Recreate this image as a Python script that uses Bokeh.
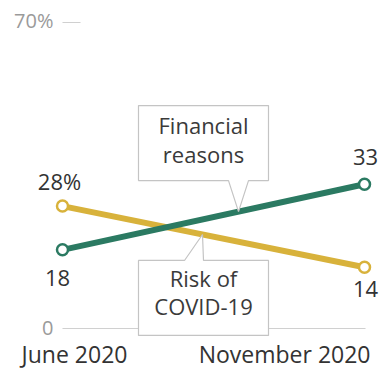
from bokeh.plotting import figure
from bokeh.models import Range1d
from bokeh.core.properties import value
from bokeh.embed import file_html
from bokeh.resources import INLINE

# ---- data ----
periods = ["June 2020", "November 2020"]
x_pos = [0, 1]
financial = [18, 33]
covid = [28, 14]
financial_labels = ["18", "33"]
covid_labels = ["28%", "14"]
financial_name = ["Financial", "reasons"]
covid_name = ["Risk of", "COVID-19"]
y_ticks = [0, 70]
y_tick_labels = ["0", "70%"]

GREEN = "#2b7a62"
GOLD = "#d8b23b"
FONT = value("Open Sans")

W, H = 380, 369
M = 0
PX0, PX1 = 62, 364
PY0, PY70 = 328, 22
kx = (PX1 - PX0) / (x_pos[1] - x_pos[0])
ky = (PY0 - PY70) / (y_ticks[1] - y_ticks[0])


def dx(px):
    return (px - PX0) / kx + x_pos[0]


def dy(py):
    return (PY0 - py) / ky + y_ticks[0]


def px_of(x):
    return PX0 + (x - x_pos[0]) * kx


def py_of(y):
    return PY0 - (y - y_ticks[0]) * ky


p = figure(width=W, height=H, output_backend="svg", toolbar_location=None,
           x_range=Range1d(dx(M), dx(M + W)), y_range=Range1d(dy(M + H), dy(M)),
           min_border=0)
p.axis.visible = False
p.grid.visible = False
p.outline_line_color = None
p.background_fill_color = "white"
p.border_fill_color = "white"

# baseline and top tick
p.segment(x0=[x_pos[0]], y0=[y_ticks[0]], x1=[dx(365)], y1=[y_ticks[0]],
          line_color="#d0d0d0", line_width=1.2)
p.segment(x0=[x_pos[0]], y0=[y_ticks[1]], x1=[dx(80)], y1=[y_ticks[1]],
          line_color="#d0d0d0", line_width=1.2)
p.text(x=[dx(53)] * 2, y=[dy(327), dy(20)], text=y_tick_labels, text_font=FONT,
       text_font_size="20px", text_color="#9a9a9a", text_align="right",
       text_baseline="middle")

# lines
p.line(x_pos, covid, line_color=GOLD, line_width=6)
p.line(x_pos, financial, line_color=GREEN, line_width=6)


def callout(tip_x, tip_y, left, right, top, bottom, b0, b1, up):
    # pixel offsets relative to the tip point on the line
    tpx, tpy = px_of(tip_x), py_of(tip_y)
    if up:  # box above tip, pointer down
        pts = [(tpx + left, tpy + top), (tpx + right, tpy + top),
               (tpx + right, tpy + bottom), (tpx + b1, tpy + bottom),
               (tpx, tpy), (tpx + b0, tpy + bottom), (tpx + left, tpy + bottom)]
    else:
        pts = [(tpx + left, tpy + bottom), (tpx + right, tpy + bottom),
               (tpx + right, tpy + top), (tpx + b1, tpy + top),
               (tpx, tpy), (tpx + b0, tpy + top), (tpx + left, tpy + top)]
    xs = [dx(a) for a, b in pts]
    ys = [dy(b) for a, b in pts]
    p.patch(xs, ys, fill_color="white", line_color="#c4c4c4", line_width=1.2)
    return tpx, tpy


# Financial callout
tf = dx(238)
tfy = financial[0] + (financial[1] - financial[0]) * tf
tpx, tpy = callout(tf, tfy, -100, 30, -106, -31, -10, 10, True)
cx = tpx - 35
p.text(x=[dx(cx)] * 2, y=[dy(124), dy(153)], text=financial_name,
       text_font=FONT, text_font_size="22px", text_color="#3a3a3a",
       text_align="center", text_baseline="middle")

# Risk callout
tc = dx(202)
tcy = covid[0] + (covid[1] - covid[0]) * tc
tpx2, tpy2 = callout(tc, tcy, -64, 66, 26, 101, -18, 1, False)
cx2 = tpx2 + 1
p.text(x=[dx(cx2)] * 2, y=[dy(277), dy(305)], text=covid_name,
       text_font=FONT, text_font_size="22px", text_color="#3a3a3a",
       text_align="center", text_baseline="middle")

# markers
p.scatter(x_pos, covid, size=11, fill_color="white", line_color=GOLD, line_width=2.5)
p.scatter(x_pos, financial, size=11, fill_color="white", line_color=GREEN, line_width=2.5)

# value labels
p.text(x=[dx(59), dx(365)], y=[dy(180), dy(288)], text=covid_labels,
       text_font=FONT, text_font_size="22px", text_color="#333333",
       text_align="center", text_baseline="middle")
p.text(x=[dx(57), dx(365)], y=[dy(277), dy(156)], text=financial_labels,
       text_font=FONT, text_font_size="22px", text_color="#333333",
       text_align="center", text_baseline="middle")

# period labels
p.text(x=[dx(74)], y=[dy(353)], text=[periods[0]], text_font=FONT,
       text_font_size="23px", text_color="#333333", text_align="center",
       text_baseline="middle")
p.text(x=[dx(370)], y=[dy(353)], text=[periods[1]], text_font=FONT,
       text_font_size="23px", text_color="#333333", text_align="right",
       text_baseline="middle")

open("out.html", "w").write(file_html(p, INLINE))
